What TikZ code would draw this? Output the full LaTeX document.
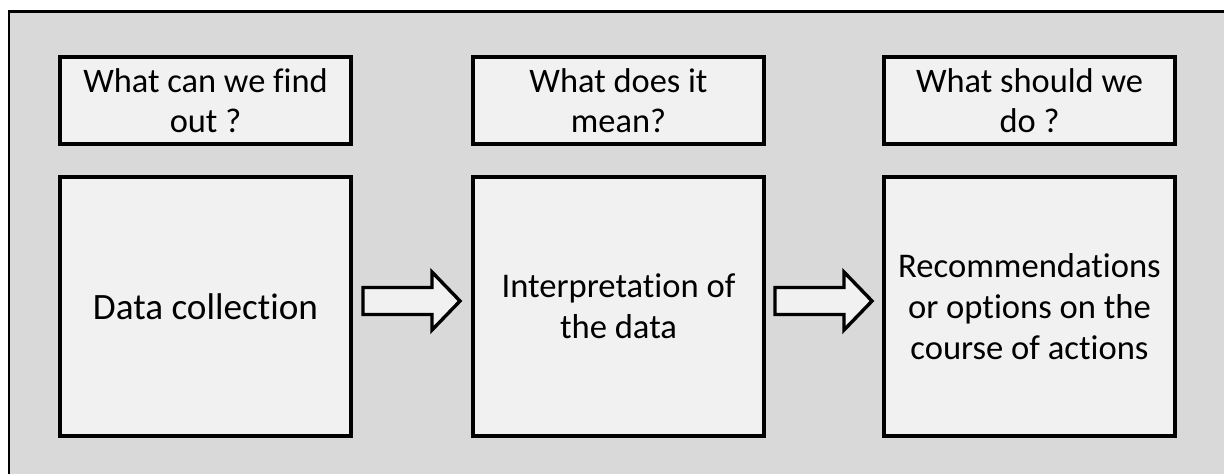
\documentclass[tikz,border=0pt]{standalone}
\usepackage{fontspec}
\setmainfont{Carlito}[Ligatures={NoCommon}]
\usetikzlibrary{calc}
\definecolor{panelgray}{HTML}{D9D9D9}
\definecolor{boxfill}{HTML}{F1F1F1}
\tikzset{
  question/.style={draw=black, line width=2pt, fill=boxfill, minimum width=145.5pt,
    minimum height=43.5pt, inner sep=0pt, align=center, font=\fontsize{17.2}{20.2}\selectfont},
  stage/.style={draw=black, line width=2pt, fill=boxfill, minimum width=145.5pt,
    minimum height=129.5pt, inner sep=0pt, align=center, font=\fontsize{17.3}{20.6}\selectfont},
  blockarrow/.style={draw=black, line width=1.7pt, fill=boxfill, line join=miter},
}
\begin{document}
\begin{tikzpicture}[x=0.5pt, y=-0.5pt]
  \useasboundingbox (0,0) rectangle (1224,473);
  \clip (0,0) rectangle (1224,473);
  % grey panel behind the diagram
  \fill[white] (0,0) rectangle (1224,473);
  \draw[fill=panelgray, line width=1.3pt] (9,11.5) rectangle (1260,500);

  % question boxes
  \node[question] (q1) at (205.5,100.5) {What can we find\\out ?};
  \node[question] (q2) at (618.5,100.5) {What does it\\mean?};
  \node[question] (q3) at (1029.5,100.5) {What should we\\do ?};

  % stage boxes
  \node[stage, font=\fontsize{18.6}{22}\selectfont] (s1) at (205.5,306.5) {Data collection};
  \node[stage] (s2) at (618.5,306.5) {Interpretation of\\the data};
  \node[stage] (s3) at (1029.5,306.5) {Recommendations\\or options on the\\course of actions};

  % block arrows between the stages
  \coordinate (a1) at ($(s1.east)!0.5!(s2.west)+(0,-5.5)$);
  \coordinate (a2) at ($(s2.east)!0.5!(s3.west)+(0,-5.5)$);
  \foreach \c in {a1,a2}{
    \draw[blockarrow] ($(\c)+(-49,-13.5)$) -- ($(\c)+(20,-13.5)$) -- ($(\c)+(20,-29)$)
      -- ($(\c)+(48,0)$) -- ($(\c)+(20,29)$) -- ($(\c)+(20,13.5)$)
      -- ($(\c)+(-49,13.5)$) -- cycle;
  }
\end{tikzpicture}
\end{document}
